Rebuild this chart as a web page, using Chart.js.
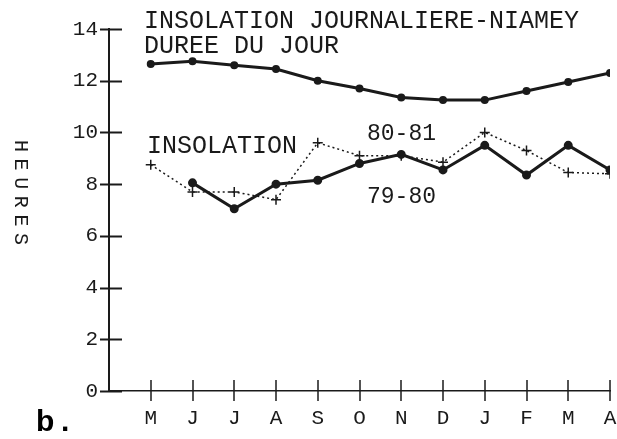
<!DOCTYPE html>
<html>
<head>
<meta charset="utf-8">
<script src="https://cdn.jsdelivr.net/npm/chart.js@4.4.0/dist/chart.umd.min.js"></script>
<style>
  html, body { margin: 0; padding: 0; background: #fff; }
</style>
</head>
<body>
<canvas id="chart" width="617" height="439"></canvas>
<script>
'use strict';
//data
var months = ['M', 'J', 'J', 'A', 'S', 'O', 'N', 'D', 'J', 'F', 'M', 'A'];
var dureeJour = [12.65, 12.75, 12.6, 12.45, 12.0, 11.7, 11.35, 11.25, 11.25, 11.6, 11.95, 12.3];
var insol7980 = [null, 8.05, 7.05, 8.0, 8.15, 8.8, 9.15, 8.55, 9.5, 8.35, 9.5, 8.55];
var insol8081 = [8.75, 7.7, 7.7, 7.4, 9.6, 9.1, 9.1, 8.85, 10.0, 9.3, 8.45, 8.4];
var yTicks = [0, 2, 4, 6, 8, 10, 12, 14];

var INK = '#1a1a1a';
var MONO = '"Liberation Mono", "DejaVu Sans Mono", monospace';

//month i sits at x = i + 1, x = 0 is the y axis
function toPoints(values){
  var pts = [];
  for (var i = 0; i < values.length; i++) {
    if (values[i] !== null) {
      pts.push({x: i + 1, y: values[i]});
    }
  }
  return pts;
}

//ticks that cross the axes, notes and labels
var decorPlugin = {
  id: 'decor',
  afterDraw: function(chart){
    var ctx = chart.ctx;
    var xs = chart.scales.x;
    var ys = chart.scales.y;
    var left = chart.chartArea.left;
    var bottom = chart.chartArea.bottom;

    ctx.save();
    ctx.strokeStyle = INK;
    ctx.lineWidth = 2;
    for (var i = 0; i < yTicks.length; i++) {
      var py = Math.round(ys.getPixelForValue(yTicks[i])) + 0.5;
      ctx.beginPath();
      ctx.moveTo(left - 9, py);
      ctx.lineTo(left + 13, py);
      ctx.stroke();
    }
    ctx.lineWidth = 1.5;
    for (var j = 0; j < months.length; j++) {
      var px = Math.round(xs.getPixelForValue(j + 1));
      ctx.beginPath();
      ctx.moveTo(px, bottom - 11);
      ctx.lineTo(px, bottom + 10);
      ctx.stroke();
    }

    ctx.fillStyle = INK;
    ctx.textBaseline = 'alphabetic';
    ctx.font = '25px ' + MONO;
    ctx.fillText('INSOLATION JOURNALIERE-NIAMEY', 144, 28);
    ctx.fillText('DUREE DU JOUR', 144, 53);
    ctx.fillText('INSOLATION', 147, 153);
    ctx.font = '23px ' + MONO;
    ctx.fillText('80-81', 367, 140);
    ctx.fillText('79-80', 367, 203);

    //vertical axis title, letters spread out
    var title = 'HEURES';
    ctx.font = '20px ' + MONO;
    for (var k = 0; k < title.length; k++) {
      ctx.save();
      ctx.translate(15, 140 + k * 18.6);
      ctx.rotate(Math.PI / 2);
      ctx.fillText(title[k], 0, 0);
      ctx.restore();
    }

    ctx.font = 'bold 30px "Liberation Sans", Arial, sans-serif';
    ctx.fillStyle = '#000';
    ctx.fillText('b', 36, 431);
    ctx.fillText('.', 61, 431);
    ctx.restore();
  }
};

var ctx = document.getElementById('chart').getContext('2d');

new Chart(ctx, {
  type: 'line',
  data: {
    datasets: [
      {
        label: 'Duree du jour',
        data: toPoints(dureeJour),
        borderColor: INK,
        borderWidth: 3,
        pointRadius: 2.5,
        pointBackgroundColor: INK,
        pointBorderColor: INK,
        tension: 0
      },
      {
        label: '79-80',
        data: toPoints(insol7980),
        borderColor: INK,
        borderWidth: 3,
        pointRadius: 3,
        pointBackgroundColor: INK,
        pointBorderColor: INK,
        tension: 0
      },
      {
        label: '80-81',
        data: toPoints(insol8081),
        borderColor: INK,
        borderWidth: 1.5,
        borderDash: [2, 3],
        pointStyle: 'cross',
        pointRadius: 5,
        pointBorderWidth: 1.5,
        pointBorderColor: INK,
        tension: 0
      }
    ]
  },
  options: {
    responsive: false,
    animation: false,
    layout: {
      padding: {top: 29, right: 6, left: 0, bottom: 0}
    },
    plugins: {
      legend: {display: false},
      tooltip: {enabled: false}
    },
    scales: {
      x: {
        type: 'linear',
        min: 0,
        max: 12,
        afterFit: function(scale){
          scale.height = 48;
          scale.paddingLeft = 0;
          scale.paddingRight = 0;
        },
        afterBuildTicks: function(scale){
          scale.ticks = months.map(function(m, i){ return {value: i + 1}; });
        },
        ticks: {
          autoSkip: false,
          maxRotation: 0,
          padding: 15,
          color: INK,
          font: {family: MONO, size: 21},
          callback: function(value){ return months[value - 1] || ''; }
        },
        grid: {display: false, drawTicks: false},
        border: {display: true, color: INK, width: 1.5, dash: [2, 3]}
      },
      y: {
        min: 0,
        max: 14,
        afterFit: function(scale){ scale.width = 109; },
        afterBuildTicks: function(scale){
          scale.ticks = yTicks.map(function(v){ return {value: v}; });
        },
        ticks: {
          padding: 11,
          color: INK,
          font: {family: MONO, size: 21}
        },
        grid: {display: false, drawTicks: false},
        border: {display: true, color: INK, width: 2}
      }
    }
  },
  plugins: [decorPlugin]
});
</script>
</body>
</html>
